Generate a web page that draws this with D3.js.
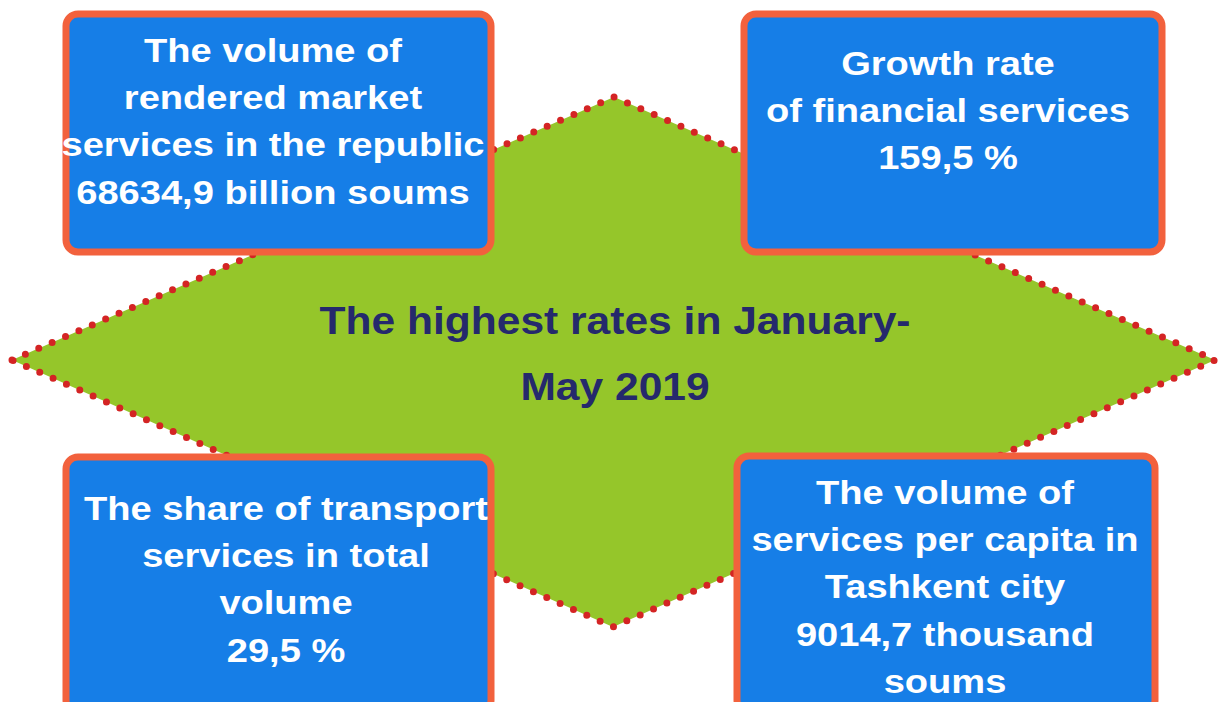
<!DOCTYPE html>
<html><head><meta charset="utf-8">
<script src="https://cdn.jsdelivr.net/npm/d3@7"></script>
<style>html,body{margin:0;padding:0;background:#fff;}svg{display:block;}</style>
</head><body>
<svg id="c" width="1219" height="702"></svg>
<script>
// ---- data ----
const centerTitle = ["The highest rates in January-", "May 2019"];
const boxIds = ["tl", "tr", "bl", "br"];
const boxLines = [
  ["The volume of", "rendered market", "services in the republic", "68634,9 billion soums"],
  ["Growth rate", "of financial services", "159,5 %"],
  ["The share of transport", "services in total", "volume", "29,5 %"],
  ["The volume of", "services per capita in", "Tashkent city", "9014,7 thousand", "soums"]
];
const boxValues = ["68634,9", "159,5", "29,5", "9014,7"];

// ---- layout ----
const W = 1219, H = 702;
const svg = d3.select("#c");

// diamond
const diamond = [[12, 360], [614, 97], [1215, 360], [613, 627]];
svg.append("path")
  .attr("d", d3.line()(diamond) + "Z")
  .attr("fill", "#95c62a")
  .attr("stroke", "#d42424")
  .attr("stroke-width", 7)
  .attr("stroke-linecap", "round")
  .attr("stroke-dasharray", "0 14.6");

const boxGeom = {
  tl: {x0: 66, y0: 14, x1: 491, y1: 252, cx: 273, ty: 50},
  tr: {x0: 744, y0: 14, x1: 1162, y1: 252, cx: 948, ty: 63},
  bl: {x0: 66, y0: 457, x1: 491, y1: 712, cx: 286, ty: 508},
  br: {x0: 737, y0: 456, x1: 1155, y1: 712, cx: 945, ty: 492}
};
const lineGap = 47.3;

const g = svg.selectAll("g.box").data(boxIds).join("g").attr("class", "box");
g.append("rect")
  .attr("x", d => boxGeom[d].x0).attr("y", d => boxGeom[d].y0)
  .attr("width", d => boxGeom[d].x1 - boxGeom[d].x0)
  .attr("height", d => boxGeom[d].y1 - boxGeom[d].y0)
  .attr("rx", 12).attr("ry", 12)
  .attr("fill", "#167ee7")
  .attr("stroke", "#f2613d")
  .attr("stroke-width", 7);

g.each(function(d, i) {
  const gb = boxGeom[d];
  d3.select(this).selectAll("text").data(boxLines[i]).join("text")
    .attr("transform", (t, j) => `translate(${gb.cx},${gb.ty + j * lineGap}) scale(1.12,1)`)
    .attr("text-anchor", "middle")
    .attr("dominant-baseline", "central")
    .attr("fill", "#ffffff")
    .attr("font-family", "'Liberation Sans', Arial, sans-serif")
    .attr("font-weight", "bold")
    .attr("font-size", 34)
    .text(t => t);
});

svg.selectAll("text.center").data(centerTitle).join("text")
  .attr("class", "center")
  .attr("transform", (t, j) => `translate(615,${321 + j * 66}) scale(1.12,1)`)
  .attr("text-anchor", "middle")
  .attr("dominant-baseline", "central")
  .attr("fill", "#25296c")
  .attr("font-family", "'Liberation Sans', Arial, sans-serif")
  .attr("font-weight", "bold")
  .attr("font-size", 38)
  .text(t => t);
</script>
</body></html>
